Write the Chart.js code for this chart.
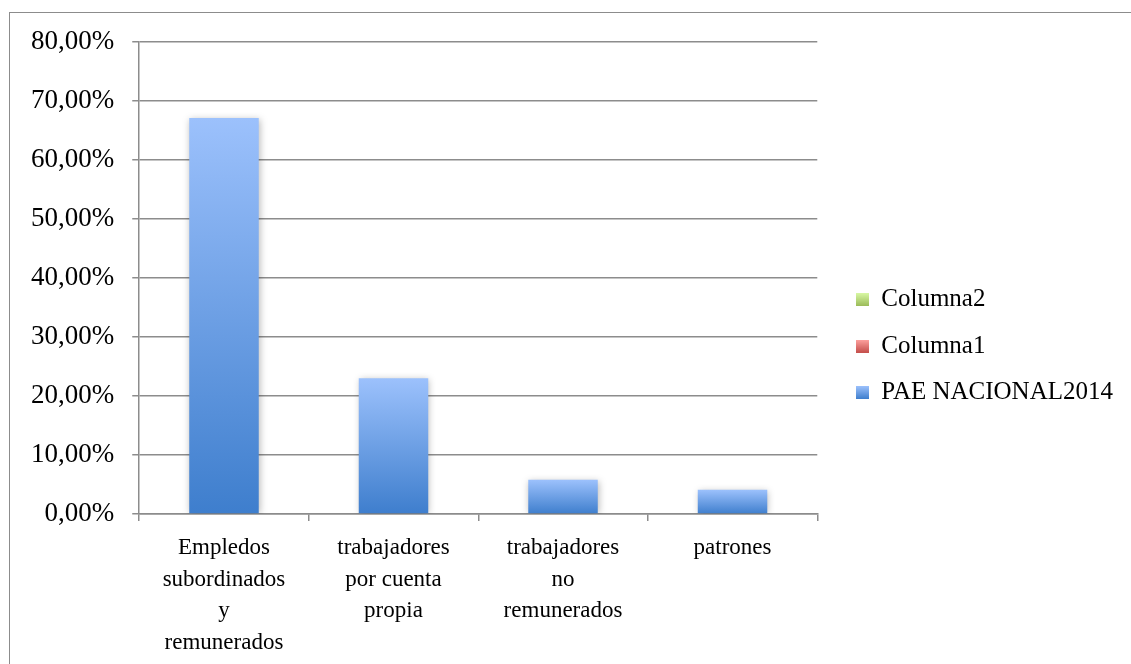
<!DOCTYPE html>
<html>
<head>
<meta charset="utf-8">
<script src="https://cdn.jsdelivr.net/npm/chart.js@4/dist/chart.umd.min.js"></script>
<style>
  html, body { margin: 0; padding: 0; background: #fff; overflow: hidden; }
  #wrap { position: relative; width: 1131px; height: 664px; }
  #frame {
    position: absolute; left: 9px; top: 12px; width: 1200px; height: 700px;
    border-left: 1.5px solid #8c8c8c; border-top: 1.5px solid #8c8c8c;
  }
  #myChart { position: absolute; left: 0; top: 0; }
</style>
</head>
<body>
<div id="wrap">
  <div id="frame"></div>
  <canvas id="myChart" width="1131" height="664"></canvas>
</div>
<script>
// categories (multi-line labels as in the original)
const categories = [
    ['Empledos', 'subordinados', 'y', 'remunerados'],
    ['trabajadores', 'por cuenta', 'propia'],
    ['trabajadores', 'no', 'remunerados'],
    ['patrones']
];

// series values, in percent
const paeNacional2014 = [67.1, 23.0, 5.8, 4.1];
const columna1 = [null, null, null, null];
const columna2 = [null, null, null, null];

// y axis ticks
const yTicks = [0, 10, 20, 30, 40, 50, 60, 70, 80];

const FONT = '"Liberation Serif", "DejaVu Serif", serif';

// colour pairs (top, bottom) for the vertical gradients
const blueTop = '#9cc1fc', blueBottom = '#3e7ecd';
const redTop = '#ffa3a0', redBottom = '#c5504c';
const greenTop = '#d8f8a4', greenBottom = '#9bbb59';

function gradientFill(topColor, bottomColor) {
    return (context) => {
        const chart = context.chart;
        const yScale = chart.scales.y;
        if (!yScale || context.raw == null) return bottomColor;
        const top = yScale.getPixelForValue(context.raw);
        const bottom = yScale.getPixelForValue(0);
        if (!isFinite(top) || !isFinite(bottom) || top === bottom) return bottomColor;
        const g = chart.ctx.createLinearGradient(0, top, 0, bottom);
        g.addColorStop(0, topColor);
        g.addColorStop(1, bottomColor);
        return g;
    };
}

// small square with a gradient, used as the legend marker
function swatch(topColor, bottomColor) {
    const c = document.createElement('canvas');
    c.width = 13;
    c.height = 13;
    const cx = c.getContext('2d');
    const g = cx.createLinearGradient(0, 0, 0, 13);
    g.addColorStop(0, topColor);
    g.addColorStop(1, bottomColor);
    cx.fillStyle = g;
    cx.fillRect(0, 0, 13, 13);
    return c;
}

const swatches = [
    swatch(blueTop, blueBottom),
    swatch(redTop, redBottom),
    swatch(greenTop, greenBottom)
];

// soft shadow behind the bars
const barShadow = {
    id: 'barShadow',
    beforeDatasetsDraw(chart) {
        const ctx = chart.ctx;
        ctx.save();
        ctx.shadowColor = 'rgba(0, 0, 0, 0.28)';
        ctx.shadowBlur = 7;
        ctx.shadowOffsetX = 1;
        ctx.shadowOffsetY = 1;
    },
    afterDatasetsDraw(chart) {
        chart.ctx.restore();
    }
};

// move the legend up a little, it sits slightly above the middle
const legendNudge = {
    id: 'legendNudge',
    afterLayout(chart) {
        if (chart.legend) {
            chart.legend.top -= 10;
            chart.legend.bottom -= 10;
        }
    }
};

const gridColor = '#8c8c8c';

new Chart(document.getElementById('myChart').getContext('2d'), {
    type: 'bar',
    data: {
        labels: categories,
        datasets: [{
            label: 'PAE NACIONAL2014',
            data: paeNacional2014,
            backgroundColor: gradientFill(blueTop, blueBottom),
            borderWidth: 0
        }, {
            label: 'Columna1',
            data: columna1,
            backgroundColor: gradientFill(redTop, redBottom),
            borderWidth: 0
        }, {
            label: 'Columna2',
            data: columna2,
            backgroundColor: gradientFill(greenTop, greenBottom),
            borderWidth: 0
        }]
    },
    options: {
        responsive: false,
        animation: false,
        devicePixelRatio: 1,
        datasets: {
            bar: {
                skipNull: true,
                categoryPercentage: 1,
                barPercentage: 0.41
            }
        },
        layout: {
            padding: { left: 13, right: 8, top: 42, bottom: -6 }
        },
        plugins: {
            tooltip: { enabled: false },
            legend: {
                position: 'right',
                reverse: true,
                maxWidth: 340,
                labels: {
                    usePointStyle: true,
                    boxWidth: 12,
                    boxHeight: 12,
                    padding: 21.5,
                    color: '#000',
                    font: { family: FONT, size: 25 },
                    generateLabels(chart) {
                        return chart.data.datasets.map((ds, i) => ({
                            text: ds.label,
                            pointStyle: swatches[i],
                            fillStyle: 'transparent',
                            strokeStyle: 'transparent',
                            lineWidth: 0,
                            hidden: false,
                            datasetIndex: i,
                            fontColor: '#000'
                        }));
                    }
                }
            }
        },
        scales: {
            x: {
                grid: {
                    display: true,
                    drawOnChartArea: false,
                    drawTicks: true,
                    tickLength: 7,
                    color: gridColor,
                    lineWidth: 1.5
                },
                border: { display: true, color: gridColor, width: 1.5 },
                ticks: {
                    color: '#000',
                    padding: 11,
                    maxRotation: 0,
                    autoSkip: false,
                    font: { family: FONT, size: 23, lineHeight: 1.38 }
                }
            },
            y: {
                min: 0,
                max: 80,
                afterBuildTicks(scale) {
                    scale.ticks = yTicks.map(v => ({ value: v }));
                },
                grid: {
                    color: gridColor,
                    lineWidth: 1.5,
                    tickLength: 7
                },
                border: { display: true, color: gridColor, width: 1.5 },
                ticks: {
                    color: '#000',
                    padding: 18,
                    font: { family: FONT, size: 27 },
                    callback: (v) => v.toFixed(2).replace('.', ',') + '%'
                }
            },
            // spacer between plot area and legend
            gap: {
                position: 'right',
                display: true,
                grid: { display: false },
                border: { display: false },
                ticks: { display: false },
                afterFit(scale) { scale.width = 18; }
            }
        }
    },
    plugins: [barShadow, legendNudge]
});
</script>
</body>
</html>
